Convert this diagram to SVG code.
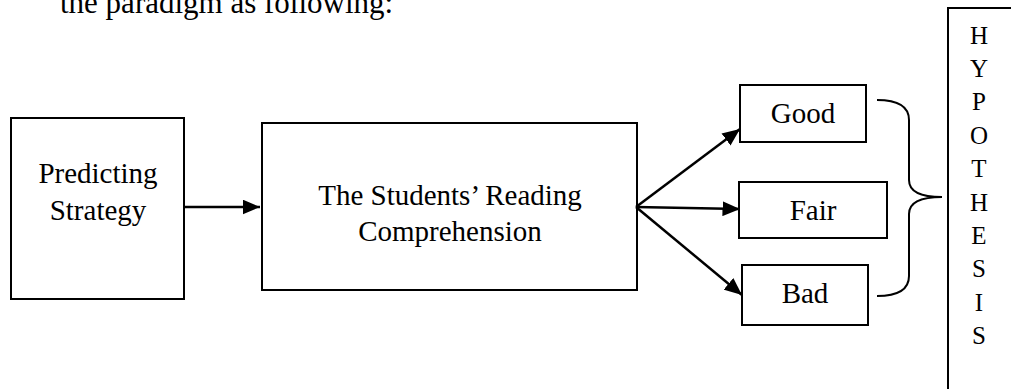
<svg xmlns="http://www.w3.org/2000/svg" width="1011" height="389" viewBox="0 0 1011 389">
<style>
text{font-family:"Liberation Serif","Times New Roman",serif;fill:#000}
.lbl{font-size:29px;text-anchor:middle}
.hyp{font-size:25px;text-anchor:middle}
.box{fill:#fff;stroke:#000;stroke-width:2}
.con{fill:none;stroke:#000;stroke-width:2.5}
</style>
<defs>
<marker id="ah" markerWidth="7" markerHeight="6" refX="7" refY="3" orient="auto" markerUnits="strokeWidth">
<path d="M0,0 L7,3 L0,6 Z" fill="#000"/>
</marker>
</defs>
<rect width="1011" height="389" fill="#fff"/>
<text x="60" y="13" style="font-size:31px">the paradigm as following:</text>
<g id="predicting">
<rect class="box" x="11" y="118" width="173" height="181"/>
<text class="lbl" x="98" y="183">Predicting</text>
<text class="lbl" x="98" y="220">Strategy</text>
</g>
<g id="comprehension">
<rect class="box" x="262" y="123" width="375" height="167"/>
<text class="lbl" x="450" y="205">The Students’ Reading</text>
<text class="lbl" x="450" y="241">Comprehension</text>
</g>
<g id="good">
<rect class="box" x="740" y="85" width="126" height="57"/>
<text class="lbl" x="803" y="123">Good</text>
</g>
<g id="fair">
<rect class="box" x="739" y="182" width="148" height="56"/>
<text class="lbl" x="813" y="220">Fair</text>
</g>
<g id="bad">
<rect class="box" x="742" y="265" width="126" height="60"/>
<text class="lbl" x="805" y="303">Bad</text>
</g>
<g id="hypothesis">
<rect class="box" x="948" y="8" width="90" height="400"/>
<text class="hyp" x="979" y="44">H</text>
<text class="hyp" x="979" y="77">Y</text>
<text class="hyp" x="979" y="110">P</text>
<text class="hyp" x="979" y="144">O</text>
<text class="hyp" x="979" y="177">T</text>
<text class="hyp" x="979" y="211">H</text>
<text class="hyp" x="979" y="244">E</text>
<text class="hyp" x="979" y="277">S</text>
<text class="hyp" x="979" y="311">I</text>
<text class="hyp" x="979" y="344">S</text>
</g>
<g id="connectors">
<line class="con" x1="184" y1="207" x2="260" y2="207" marker-end="url(#ah)"/>
<line class="con" x1="636" y1="207" x2="740" y2="129" marker-end="url(#ah)"/>
<line class="con" x1="636" y1="207" x2="740" y2="209" marker-end="url(#ah)"/>
<line class="con" x1="636" y1="207" x2="742" y2="295" marker-end="url(#ah)"/>
<path class="con" d="M877,100 Q909,100 909,120 L909,180 Q909,197 942,197 Q909,197 909,214 L909,276 Q909,296 877,296" style="stroke-width:2"/>
</g>
</svg>
